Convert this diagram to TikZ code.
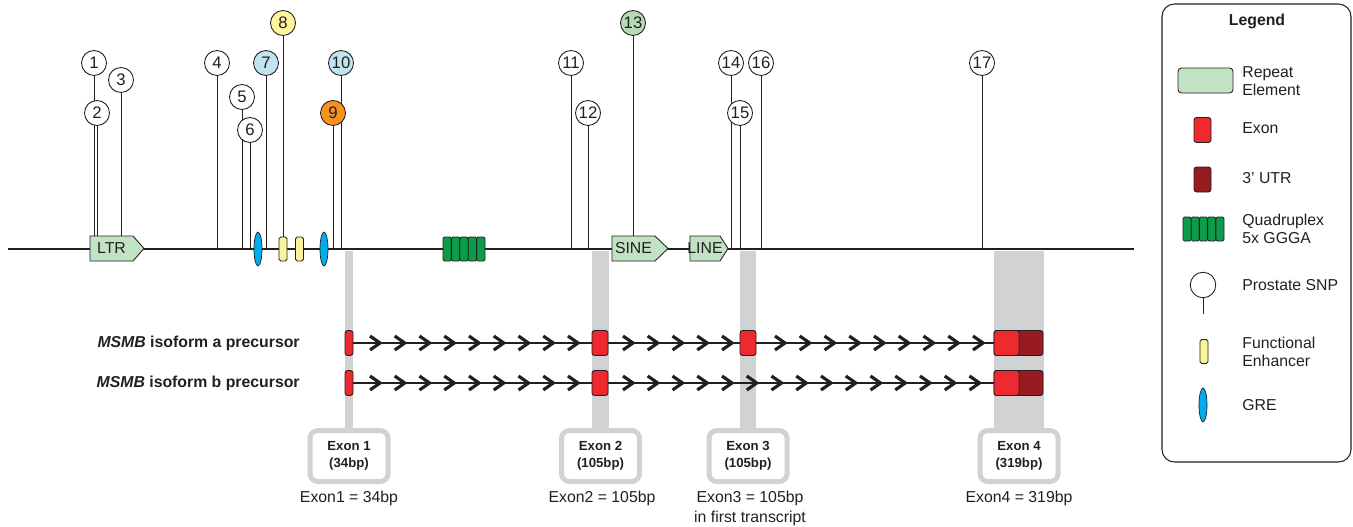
\documentclass[tikz,border=0pt]{standalone}
\usepackage{fontspec}
\setmainfont{Liberation Sans}
\usetikzlibrary{calc}
\pgfdeclarelayer{behind}
\pgfsetlayers{behind,main}

\definecolor{ink}{HTML}{231F20}
\definecolor{bandgray}{HTML}{D1D2D4}
\definecolor{repeatgreen}{HTML}{C1E2C3}
\definecolor{quadgreen}{HTML}{0C9B48}
\definecolor{exonred}{HTML}{EE2A2F}
\definecolor{utrred}{HTML}{981B1F}
\definecolor{grecyan}{HTML}{00AEEF}
\definecolor{enhyellow}{HTML}{F9F39C}
\definecolor{snpblue}{HTML}{C0E4EE}
\definecolor{snpyellow}{HTML}{FCF49E}
\definecolor{snporange}{HTML}{F7921E}
\definecolor{snpgreen}{HTML}{B4DBB6}

\tikzset{
	snp/.style={circle, draw=ink, line width=0.5pt, fill=white, minimum size=5mm, inner sep=0pt, text=ink, font=\fontsize{9.5}{11}\selectfont},
	stem/.style={draw=ink, line width=0.5pt},
	exon/.style={draw=ink, line width=0.5pt, fill=exonred, rounded corners=1.5pt, minimum height=5mm, inner sep=0pt},
	utr/.style={exon, fill=utrred},
	enh/.style={draw=ink, line width=0.5pt, fill=enhyellow, rounded corners=1pt, minimum width=1.6mm, minimum height=4.8mm, inner sep=0pt},
	gre/.style={draw=ink, line width=0.4pt, fill=grecyan},
	quad/.style={draw=ink, line width=0.5pt, fill=quadgreen, rounded corners=0.8pt},
	repeatfill/.style={draw=ink, line width=0.5pt, fill=repeatgreen},
	replabel/.style={inner sep=0pt, minimum height=5mm, text=ink, font=\fontsize{9}{11}\selectfont},
	shaft/.style={ink, line width=1.6pt},
	thinshaft/.style={ink, line width=0.6pt},
	chev/.style={ink, line width=1.8pt, line join=miter},
	band/.style={fill=bandgray},
	exbox/.style={draw=bandgray, line width=1mm, rounded corners=1.6mm, fill=white, minimum width=15.6mm, minimum height=10.2mm, inner sep=0pt, align=center, text=ink, font=\bfseries\fontsize{7.5}{9.7}\selectfont},
	caption/.style={anchor=north, inner sep=0pt, align=center, text=ink, font=\fontsize{9}{11.4}\selectfont},
	rowlabel/.style={anchor=east, inner sep=0pt, text=ink, font=\bfseries\fontsize{9}{11}\selectfont},
	legtext/.style={anchor=west, inner sep=0pt, align=left, text=ink, font=\fontsize{9}{10.2}\selectfont}
}

% repeat element: (name)(left:body end:tip){label}
\def\repeatel(#1)(#2:#3:#4)#5{%
	\draw[repeatfill] (#2,236) -- (#3,236) -- (#4,248.5) -- (#3,261) -- (#2,261) -- cycle;
	\node[replabel] (#1) at ({(#2+#3)/2},248.5) {#5};}

% run of chevrons between two exons: (from)(to)[y:first tip:count]
\def\arrowrun(#1)(#2)[#3:#4:#5]{%
	\pgfmathsetmacro\lasttip{#4+(#5-1)*24.75}
	\draw[shaft] (#1.east) -- (\lasttip,#3);
	\draw[thinshaft] (\lasttip,#3) -- (#2.west);
	\foreach \k in {1,...,#5}
		\draw[chev] ({#4+(\k-1)*24.75-10},#3-7) -- ({#4+(\k-1)*24.75},#3) -- ({#4+(\k-1)*24.75-10},#3+7);}

\begin{document}
\begin{tikzpicture}[x=0.2mm, y=-0.2mm]
		%%%%% START %%%%%
		\useasboundingbox (0,0) rectangle (1353,526);
		
		% genome line
		\coordinate (gstart) at (8,249);
		\coordinate (gend) at (1134,249);
		\coordinate (base) at (0,249);
		\draw[thinshaft] (gstart) -- (gend);
		
		% repeat elements
		\repeatel(ltr)(90:133:144){LTR}
		\repeatel(sine)(612:655:668){SINE}
		\repeatel(linerep)(690:720:728){LINE}
		
		% quadruplex 5x GGGA
		\draw[quad] (443,237) rectangle (451.4,261);
		\draw[quad] (451.4,237) rectangle (459.8,261);
		\draw[quad] (459.8,237) rectangle (468.2,261);
		\draw[quad] (468.2,237) rectangle (476.6,261);
		\draw[quad] (476.6,237) rectangle (485,261);
		
		% GREs and enhancers
		\draw[gre] (258,249) ellipse (4 and 17);
		\draw[gre] (324,249) ellipse (4 and 17);
		\node[enh] (enh1) at (283,249) {};
		\node[enh] (enh2) at (299.5,249) {};
		
		% prostate SNPs
		\node[snp] (s1) at (94,63) {1};
		\node[snp] (s2) at (97,113) {2};
		\node[snp] (s3) at (121,80) {3};
		\node[snp] (s4) at (217,63) {4};
		\node[snp] (s5) at (242,97) {5};
		\node[snp] (s6) at (250,130) {6};
		\node[snp, fill=snpblue] (s7) at (266,63) {7};
		\node[snp, fill=snpyellow] (s8) at (283,23) {8};
		\node[snp, fill=snporange] (s9) at (333,113) {9};
		\node[snp, fill=snpblue] (s10) at (341,63) {10};
		\node[snp] (s11) at (571,63) {11};
		\node[snp] (s12) at (588,113) {12};
		\node[snp, fill=snpgreen] (s13) at (633,23) {13};
		\node[snp] (s14) at (731,63) {14};
		\node[snp] (s15) at (740,113) {15};
		\node[snp] (s16) at (761,63) {16};
		\node[snp] (s17) at (982,63) {17};
		
		\begin{pgfonlayer}{behind}
			\draw[stem] (s1) -- (s1 |- ltr.north);
			\draw[stem] (s2) -- (s2 |- ltr.north);
			\draw[stem] (s3) -- (s3 |- ltr.north);
			\draw[stem] (s4) -- (s4 |- base);
			\draw[stem] (s5) -- (s5 |- base);
			\draw[stem] (s6) -- (s6 |- base);
			\draw[stem] (s7) -- (s7 |- base);
			\draw[stem] (s8) -- (s8 |- enh1.north);
			\draw[stem] (s9) -- (s9 |- base);
			\draw[stem] (s10) -- (s10 |- base);
			\draw[stem] (s11) -- (s11 |- base);
			\draw[stem] (s12) -- (s12 |- base);
			\draw[stem] (s13) -- (s13 |- sine.north);
			\draw[stem] (s14) -- (s14 |- base);
			\draw[stem] (s15) -- (s15 |- base);
			\draw[stem] (s16) -- (s16 |- base);
			\draw[stem] (s17) -- (s17 |- base);
			
			% exon bands
			\fill[band] (345,251) rectangle (353,432);
			\fill[band] (592,251) rectangle (609,432);
			\fill[band] (740,251) rectangle (756,432);
			\fill[band] (994,251) rectangle (1044,432);
		\end{pgfonlayer}
		
		% transcripts
		\node[rowlabel] (laba) at (300,343) {\textit{MSMB} isoform a precursor};
		\node[rowlabel] (labb) at (300,383) {\textit{MSMB} isoform b precursor};
		
		\node[exon, minimum width=1.6mm] (a1) at (349,343) {};
		\node[exon, minimum width=3.2mm] (a2) at (600,343) {};
		\node[exon, minimum width=3.2mm] (a3) at (748,343) {};
		\node[utr, minimum width=9.8mm] (a4u) at (1018.5,343) {};
		\node[exon, minimum width=5mm] (a4) at (1006.5,343) {};
		
		\node[exon, minimum width=1.6mm] (b1) at (349,383) {};
		\node[exon, minimum width=3.2mm] (b2) at (600,383) {};
		\node[utr, minimum width=9.8mm] (b4u) at (1018.5,383) {};
		\node[exon, minimum width=5mm] (b4) at (1006.5,383) {};
		
		\arrowrun(a1)(a2)[343:380:9]
		\arrowrun(a2)(a3)[343:633:5]
		\arrowrun(a3)(a4)[343:785:9]
		\arrowrun(b1)(b2)[383:380:9]
		\arrowrun(b2)(b4)[383:633:15]
		
		% exon boxes
		\node[exbox] (box1) at (349,456) {Exon 1\\(34bp)};
		\node[exbox] (box2) at (600.5,456) {Exon 2\\(105bp)};
		\node[exbox] (box3) at (748,456) {Exon 3\\(105bp)};
		\node[exbox] (box4) at (1019,456) {Exon 4\\(319bp)};
		
		\node[caption] (cap1) at (349,491) {Exon1 = 34bp};
		\node[caption] (cap2) at (602,491) {Exon2 = 105bp};
		\node[caption] (cap3) at (750,491) {Exon3 = 105bp\\in first transcript};
		\node[caption] (cap4) at (1019,491) {Exon4 = 319bp};
		
		% legend
		\draw[ink, line width=0.6pt, rounded corners=2.5mm] (1162,4) rectangle (1351,462);
		\node[text=ink, font=\bfseries\fontsize{9}{11}\selectfont] (legtitle) at (1257,21) {Legend};
		
		\draw[repeatfill, rounded corners=2pt] (1178,68) rectangle (1233,93);
		\node[legtext] (lrep) at (1242,81) {Repeat\\Element};
		
		\node[exon, minimum width=3.4mm] (lexon) at (1202.5,130) {};
		\node[legtext] (lexontxt) at (1242,128) {Exon};
		
		\node[utr, minimum width=3.4mm] (lutr) at (1202.5,179.5) {};
		\node[legtext] (lutrtxt) at (1242,178) {3' UTR};
		
		\draw[quad] (1183,217) rectangle (1191.2,241);
		\draw[quad] (1191.2,217) rectangle (1199.4,241);
		\draw[quad] (1199.4,217) rectangle (1207.6,241);
		\draw[quad] (1207.6,217) rectangle (1215.8,241);
		\draw[quad] (1215.8,217) rectangle (1224,241);
		\node[legtext] (lquad) at (1242,229) {Quadruplex\\5x GGGA};
		
		\node[snp, minimum size=5.1mm] (lsnp) at (1203,285) {};
		\coordinate (lsnpend) at (1203,314);
		\draw[stem] (lsnp) -- (lsnpend);
		\node[legtext] (lsnptxt) at (1242,285) {Prostate SNP};
		
		\node[enh] (lenh) at (1204,351.5) {};
		\node[legtext] (lenhtxt) at (1242,351.5) {Functional\\Enhancer};
		
		\draw[gre] (1203,405) ellipse (4 and 17);
		\node[legtext] (lgre) at (1242,405) {GRE};
		
		%%%%% END %%%%%
\end{tikzpicture}
\end{document}
